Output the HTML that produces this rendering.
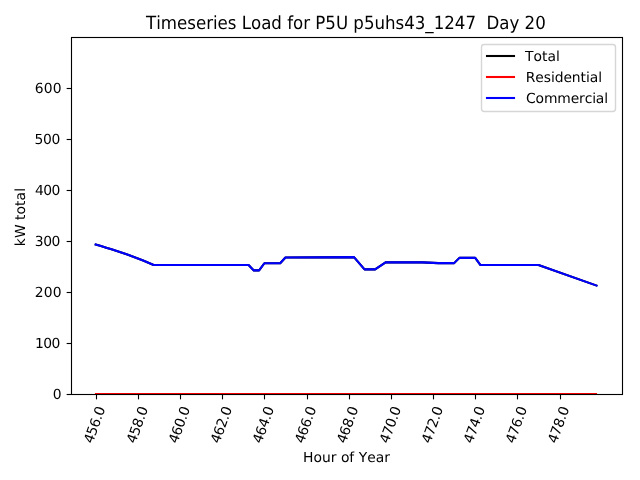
<!DOCTYPE html>
<html lang="en"><head><meta charset="utf-8"><title>Timeseries Load for P5U p5uhs43_1247 Day 20</title>
<style>html,body{margin:0;padding:0;background:#fff;}body{width:640px;height:480px;overflow:hidden;}svg{display:block;}text{font-family:"DejaVu Sans","Liberation Sans",sans-serif;fill:#000;font-kerning:none;font-variant-ligatures:none;text-rendering:geometricPrecision;}</style>
</head><body>
<svg width="640" height="480" viewBox="0 0 640 480">
<rect x="0" y="0" width="640" height="480" fill="#ffffff"/>
<defs><clipPath id="ax"><rect x="71.00" y="37.00" width="551.00" height="357.00"/></clipPath></defs>
<g clip-path="url(#ax)" fill="none" stroke-width="2.083" stroke-linecap="square" stroke-linejoin="round">
<polyline points="95.69,244.53 100.96,246.12 106.23,247.72 111.50,249.36 116.77,251.05 122.05,252.78 127.32,254.58 132.59,256.46 137.86,258.43 143.13,260.50 148.40,262.69 153.67,265.01 248.56,265.01 253.83,270.41 259.10,270.41 264.37,263.25 280.18,263.25 285.46,257.44 353.98,257.11 364.52,269.39 375.07,269.39 385.61,262.41 422.51,262.41 438.32,263.12 454.14,263.12 459.41,257.88 475.22,257.88 480.49,265.01 538.48,265.01 596.46,285.54" stroke="#000000"/>
<line x1="96.00" y1="394.00" x2="596.00" y2="394.00" stroke="#ff0000"/>
<polyline points="95.69,244.53 100.96,246.12 106.23,247.72 111.50,249.36 116.77,251.05 122.05,252.78 127.32,254.58 132.59,256.46 137.86,258.43 143.13,260.50 148.40,262.69 153.67,265.01 248.56,265.01 253.83,270.41 259.10,270.41 264.37,263.25 280.18,263.25 285.46,257.44 353.98,257.11 364.52,269.39 375.07,269.39 385.61,262.41 422.51,262.41 438.32,263.12 454.14,263.12 459.41,257.88 475.22,257.88 480.49,265.01 538.48,265.01 596.46,285.54" stroke="#0000ff"/>
</g>
<g stroke="#000" stroke-width="1.111" fill="none">
<line x1="96.5" y1="394.50" x2="96.5" y2="399.36"/>
<line x1="138.5" y1="394.50" x2="138.5" y2="399.36"/>
<line x1="180.5" y1="394.50" x2="180.5" y2="399.36"/>
<line x1="222.5" y1="394.50" x2="222.5" y2="399.36"/>
<line x1="264.5" y1="394.50" x2="264.5" y2="399.36"/>
<line x1="307.5" y1="394.50" x2="307.5" y2="399.36"/>
<line x1="349.5" y1="394.50" x2="349.5" y2="399.36"/>
<line x1="391.5" y1="394.50" x2="391.5" y2="399.36"/>
<line x1="433.5" y1="394.50" x2="433.5" y2="399.36"/>
<line x1="475.5" y1="394.50" x2="475.5" y2="399.36"/>
<line x1="517.5" y1="394.50" x2="517.5" y2="399.36"/>
<line x1="560.5" y1="394.50" x2="560.5" y2="399.36"/>
<line x1="66.64" y1="394.5" x2="71.50" y2="394.5"/>
<line x1="66.64" y1="343.5" x2="71.50" y2="343.5"/>
<line x1="66.64" y1="292.5" x2="71.50" y2="292.5"/>
<line x1="66.64" y1="241.5" x2="71.50" y2="241.5"/>
<line x1="66.64" y1="190.5" x2="71.50" y2="190.5"/>
<line x1="66.64" y1="139.5" x2="71.50" y2="139.5"/>
<line x1="66.64" y1="88.5" x2="71.50" y2="88.5"/>
<rect x="71.5" y="37.5" width="551.0" height="357.0" stroke-linejoin="miter" stroke-linecap="square"/>
</g>
<g font-size="13.889px">
<text x="52.69" y="398.90" letter-spacing="0.000">0</text>
<text x="34.92" y="347.90" letter-spacing="-0.470">100</text>
<text x="34.87" y="296.90" letter-spacing="0.100">200</text>
<text x="34.87" y="245.90" letter-spacing="-0.500">300</text>
<text x="34.92" y="194.90" letter-spacing="-0.470">400</text>
<text x="34.62" y="143.90" letter-spacing="-0.320">500</text>
<text x="34.87" y="92.90" letter-spacing="0.100">600</text>
</g>
<g font-size="13.889px" text-anchor="middle" letter-spacing="-0.4000">
<text transform="translate(95.34,425.32) rotate(-70)" x="0" y="3.72">456.0</text>
<text transform="translate(138.22,425.32) rotate(-70)" x="0" y="3.72">458.0</text>
<text transform="translate(180.22,425.32) rotate(-70)" x="0" y="3.72">460.0</text>
<text transform="translate(222.22,425.32) rotate(-70)" x="0" y="3.72">462.0</text>
<text transform="translate(264.22,425.32) rotate(-70)" x="0" y="3.72">464.0</text>
<text transform="translate(306.34,425.32) rotate(-70)" x="0" y="3.72">466.0</text>
<text transform="translate(348.34,425.32) rotate(-70)" x="0" y="3.72">468.0</text>
<text transform="translate(391.22,425.32) rotate(-70)" x="0" y="3.72">470.0</text>
<text transform="translate(433.22,425.32) rotate(-70)" x="0" y="3.72">472.0</text>
<text transform="translate(475.22,425.32) rotate(-70)" x="0" y="3.72">474.0</text>
<text transform="translate(517.22,425.32) rotate(-70)" x="0" y="3.72">476.0</text>
<text transform="translate(559.34,425.32) rotate(-70)" x="0" y="3.72">478.0</text>
</g>
<text x="346.47" y="461.50" font-size="13.889px" text-anchor="middle" letter-spacing="0.0000">Hour of Year</text>
<text transform="translate(24.70,217.06) rotate(-90)" font-size="13.889px" text-anchor="middle" letter-spacing="0.0400">kW total</text>
<text transform="translate(345.93,29.00) scale(1,1.0830)" font-size="16.667px" text-anchor="middle" letter-spacing="-0.0210" xml:space="preserve">Timeseries Load for P5U p5uhs43_1247  Day 20</text>
<rect x="481.5" y="44.5" width="134" height="67" rx="2.78" ry="2.78" fill="#ffffff" fill-opacity="0.8" stroke="#cccccc" stroke-opacity="0.8" stroke-width="1.389"/>
<line x1="485.95" y1="56.00" x2="515.05" y2="56.00" stroke="#000000" stroke-width="2.083" stroke-linecap="butt"/>
<text x="525.05" y="61.00" font-size="13.889px" letter-spacing="0.0000">Total</text>
<line x1="485.95" y1="77.00" x2="515.05" y2="77.00" stroke="#ff0000" stroke-width="2.083" stroke-linecap="butt"/>
<text x="525.75" y="82.00" font-size="13.889px" letter-spacing="-0.0800">Residential</text>
<line x1="485.95" y1="98.00" x2="515.05" y2="98.00" stroke="#0000ff" stroke-width="2.083" stroke-linecap="butt"/>
<text x="526.05" y="103.00" font-size="13.889px" letter-spacing="-0.1400">Commercial</text>
</svg>
</body></html>
